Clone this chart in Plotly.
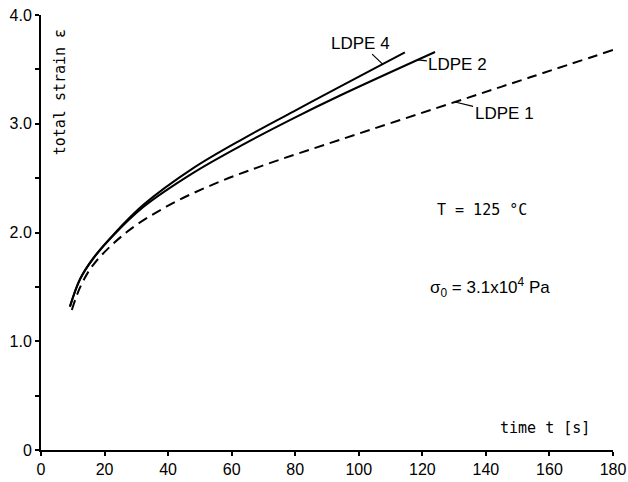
import numpy as np
import plotly.graph_objects as go

# ---- data ----
t_ldpe4 = [9.1, 12.3, 16.5, 22.8, 32.2, 47.9, 63.7, 79.4, 94.1, 114.5]
e_ldpe4 = [1.318, 1.574, 1.767, 1.981, 2.254, 2.592, 2.864, 3.112, 3.341, 3.657]

t_ldpe2 = [9.1, 12.3, 16.5, 22.8, 32.2, 47.9, 63.7, 79.4, 94.1, 124.0]
e_ldpe2 = [1.318, 1.570, 1.762, 1.975, 2.235, 2.549, 2.811, 3.050, 3.260, 3.660]

t_ldpe1 = [9.7, 12.3, 16.5, 27.0, 40.6, 56.3, 73.1, 94.1, 128.7, 153.9, 180.0]
e_ldpe1 = [1.287, 1.495, 1.705, 2.004, 2.256, 2.468, 2.649, 2.853, 3.185, 3.427, 3.678]

x_ticks = [0, 20, 40, 60, 80, 100, 120, 140, 160, 180]
y_ticks = [0, 1, 2, 3, 4]
y_ticktext = ["0", "1.0", "2.0", "3.0", "4.0"]

TICKFONT = dict(family="Liberation Sans, Arial, sans-serif", size=16, color="black")
MONO = dict(family="DejaVu Sans Mono, monospace", size=15, color="black")
LABFONT = dict(family="Liberation Sans, Arial, sans-serif", size=17, color="black")

fig = go.Figure()
fig.add_trace(go.Scatter(x=t_ldpe4, y=e_ldpe4, mode="lines",
                         line=dict(color="black", width=2, shape="spline", smoothing=1.0), name="LDPE 4"))
fig.add_trace(go.Scatter(x=t_ldpe2, y=e_ldpe2, mode="lines",
                         line=dict(color="black", width=2, shape="spline", smoothing=1.0), name="LDPE 2"))
fig.add_trace(go.Scatter(x=t_ldpe1, y=e_ldpe1, mode="lines",
                         line=dict(color="black", width=2, dash="10px,6px", shape="spline", smoothing=1.0),
                         name="LDPE 1"))

anns = []
def lab(text, tx, series_t, series_e, ax, ay):
    anns.append(dict(x=tx, y=float(np.interp(tx, series_t, series_e)), xref="x", yref="y",
                     text=text, showarrow=True, arrowhead=0, arrowwidth=1.2, arrowcolor="black",
                     ax=ax, ay=ay, standoff=0, font=LABFONT))

lab("LDPE 4", 107.5, t_ldpe4, e_ldpe4, -22, -21)
lab("LDPE 2", 118.6, t_ldpe2, e_ldpe2, 40, 5)
lab("LDPE 1", 130.3, t_ldpe1, e_ldpe1, 49, 12)

anns.append(dict(x=138.8, y=2.207, xref="x", yref="y", text="T = 125 °C", showarrow=False, font=MONO))
anns.append(dict(x=141.3, y=1.49, xref="x", yref="y",
                 text="σ<sub>0</sub> = 3.1x10<sup>4</sup> Pa", showarrow=False, font=LABFONT))
anns.append(dict(x=158.6, y=0.20, xref="x", yref="y", text="time t [s]", showarrow=False, font=MONO))
anns.append(dict(x=6.0, y=3.29, xref="x", yref="y", text="total strain ε", textangle=-90,
                 showarrow=False, font=MONO))

fig.update_layout(
    width=628, height=482,
    margin=dict(l=41, r=15, t=15, b=32),
    plot_bgcolor="white", paper_bgcolor="white",
    showlegend=False,
    annotations=anns,
)
fig.update_xaxes(range=[0, 180], tickvals=x_ticks, showgrid=False, zeroline=False, automargin=False,
                 showline=True, linecolor="black", linewidth=2,
                 ticks="outside", ticklen=4, tickwidth=1.5, tickcolor="black",
                 tickfont=TICKFONT)
fig.update_yaxes(range=[0, 4], tickvals=y_ticks, ticktext=y_ticktext, showgrid=False, zeroline=False,
                 automargin=False,
                 showline=True, linecolor="black", linewidth=2,
                 ticks="outside", ticklen=4, tickwidth=1.5, tickcolor="black",
                 minor=dict(dtick=0.5, ticks="outside", ticklen=4, tickwidth=1.5, tickcolor="black", showgrid=False),
                 tickfont=TICKFONT)

fig.write_html("out.html", config={"displayModeBar": False},
               post_script="document.body.style.margin='0px';document.body.style.padding='0px';")
